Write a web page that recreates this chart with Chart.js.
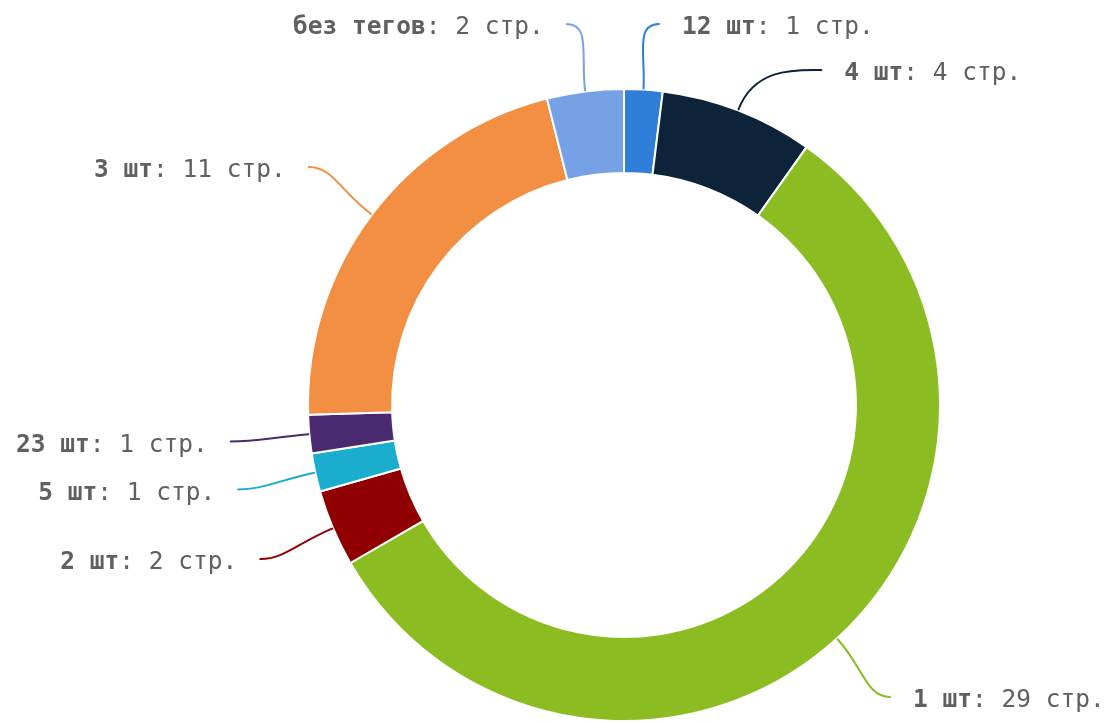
<!DOCTYPE html>
<html lang="ru">
<head>
<meta charset="utf-8">
<title>Теги на страницах</title>
<script src="https://cdn.jsdelivr.net/npm/chart.js@4.4.1/dist/chart.umd.min.js"></script>
<style>
    html, body { margin: 0; padding: 0; background: #ffffff; }
    #wrap { width: 1109px; height: 722px; position: relative; overflow: hidden; }
</style>
</head>
<body>
<div id="wrap"><canvas id="tagsChart" width="1109" height="722"></canvas></div>
<script>
    // data
    const categories = ['12 шт', '4 шт', '1 шт', '2 шт', '5 шт', '23 шт', '3 шт', 'без тегов'];
    const pages = [1, 4, 29, 2, 1, 1, 11, 2];
    const unit = 'стр.';

    const palette = ['#2f7ed8', '#0d233a', '#8bbc21', '#910000', '#1aadce', '#492970', '#f28f43', '#77a1e5'];

    const LABEL_FONT = '"DejaVu Sans Mono", "Liberation Mono", monospace';
    const LABEL_SIZE = 24.5;
    const LABEL_COLOR = '#606060';

    // outside labels with soft connectors
    const outsideLabels = {
        id: 'outsideLabels',
        afterDatasetsDraw(chart) {
            const ctx = chart.ctx;
            const meta = chart.getDatasetMeta(0);
            const distance = 79;
            const topLimit = 24;
            const minGap = 46;

            const items = meta.data.map((arc, i) => {
                const p = arc.getProps(['x', 'y', 'startAngle', 'endAngle', 'outerRadius'], true);
                const mid = (p.startAngle + p.endAngle) / 2;
                const ux = Math.cos(mid), uy = Math.sin(mid);
                const R = p.outerRadius + distance;
                return {
                    i, cx: p.x, cy: p.y, ux, uy, R,
                    side: ux >= 0 ? 1 : -1,
                    edge: { x: p.x + ux * (p.outerRadius + 1), y: p.y + uy * (p.outerRadius + 1) },
                    end: { x: p.x + ux * R, y: p.y + uy * R }
                };
            });

            [1, -1].forEach(side => {
                const group = items.filter(it => it.side === side).sort((a, b) => a.end.y - b.end.y);
                let last = -Infinity;
                group.forEach(it => {
                    if (it.end.y < topLimit) {
                        // nudge sideways as it is pushed down from the top edge
                        it.end.x += side * (topLimit - it.end.y) * 0.8;
                        it.end.y = topLimit;
                    }
                    if (it.end.y < last + minGap) {
                        it.end.y = last + minGap;
                        const dy = it.end.y - it.cy;
                        it.end.x = it.cx + side * Math.sqrt(Math.max(it.R * it.R - dy * dy, 0)) - side * 12;
                    }
                    last = it.end.y;
                });
            });

            ctx.save();
            items.forEach(it => {
                const { edge, end, side } = it;
                const d = Math.hypot(end.x - edge.x, end.y - edge.y);
                ctx.beginPath();
                ctx.moveTo(edge.x, edge.y);
                ctx.bezierCurveTo(
                    edge.x + it.ux * d * 0.5, edge.y + it.uy * d * 0.5,
                    end.x - side * 24, end.y,
                    end.x, end.y
                );
                ctx.strokeStyle = palette[it.i];
                ctx.lineWidth = 2;
                ctx.lineCap = 'round';
                ctx.stroke();

                const name = categories[it.i];
                const rest = ': ' + pages[it.i] + ' ' + unit;
                ctx.textBaseline = 'middle';
                ctx.textAlign = 'left';
                ctx.fillStyle = LABEL_COLOR;
                ctx.font = 'bold ' + LABEL_SIZE + 'px ' + LABEL_FONT;
                const wName = ctx.measureText(name).width;
                ctx.font = LABEL_SIZE + 'px ' + LABEL_FONT;
                const wRest = ctx.measureText(rest).width;
                const tx = side > 0 ? end.x + 23 : end.x - 23 - wName - wRest;
                const ty = end.y + 4;
                ctx.font = 'bold ' + LABEL_SIZE + 'px ' + LABEL_FONT;
                ctx.fillText(name, tx, ty);
                ctx.font = LABEL_SIZE + 'px ' + LABEL_FONT;
                ctx.fillText(rest, tx + wName, ty);
            });
            ctx.restore();
        }
    };

    new Chart(document.getElementById('tagsChart').getContext('2d'), {
        type: 'doughnut',
        data: {
            labels: categories,
            datasets: [{
                data: pages,
                backgroundColor: palette,
                borderColor: '#ffffff',
                borderWidth: 2,
                radius: 316,
                cutout: '73.4%'
            }]
        },
        options: {
            responsive: false,
            devicePixelRatio: 1,
            animation: false,
            layout: {
                padding: { left: 307, right: 168, top: 88, bottom: 0 }
            },
            plugins: {
                legend: { display: false },
                tooltip: { enabled: false }
            }
        },
        plugins: [outsideLabels]
    });
</script>
</body>
</html>
